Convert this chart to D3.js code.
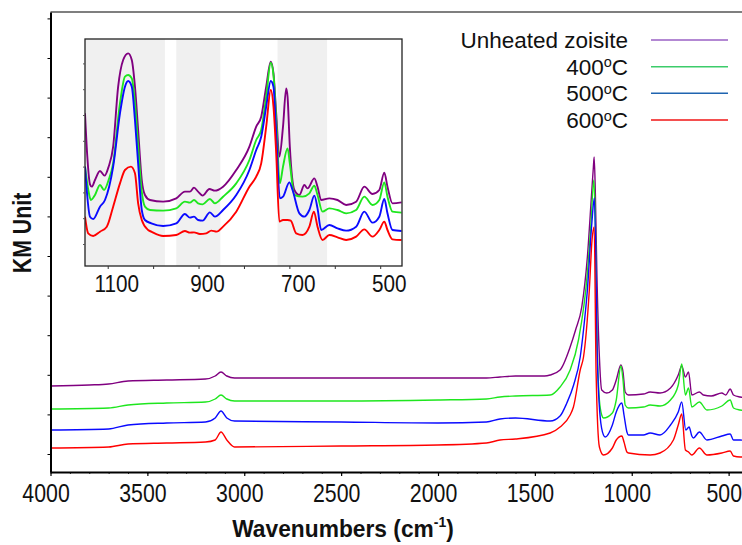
<!DOCTYPE html>
<html>
<head>
<meta charset="utf-8">
<script src="https://cdn.jsdelivr.net/npm/d3@7"></script>
<style>
  body { margin: 0; background: #fff; }
  svg { display: block; }
  text { font-family: "Liberation Sans", Arial, sans-serif; fill: #111; }
</style>
</head>
<body>
<svg id="chart" width="742" height="545"></svg>
<script>
// ---- Series (wavenumber cm-1, KM value) --------------------------------
const seriesNames = ["Unheated zoisite", "400", "500", "600"];
const seriesColors = ["#800080", "#1ee61e", "#0a0aff", "#ff0000"];
const legendColors = ["#9a60c4", "#3ccc6a", "#1f64b0", "#f01414"];

const unheated = [[4000,0.086],[3800,0.087],[3700,0.088],[3600,0.091],[3400,0.092],[3200,0.093],[3150,0.096],[3120,0.100],[3090,0.096],[3050,0.094],[2500,0.094],[2000,0.094],[1750,0.094],[1680,0.095],[1600,0.096],[1450,0.096],[1421,0.097],[1370,0.102],[1318,0.125],[1290,0.142],[1258,0.165],[1229,0.215],[1206,0.282],[1198,0.305],[1194,0.315],[1188,0.280],[1180,0.199],[1167,0.115],[1155,0.082],[1129,0.079],[1100,0.082],[1080,0.092],[1056,0.107],[1045,0.100],[1034,0.080],[1017,0.077],[940,0.078],[905,0.080],[854,0.079],[800,0.084],[760,0.097],[742,0.106],[723,0.095],[707,0.100],[690,0.077],[651,0.080],[630,0.077],[590,0.076],[535,0.079],[515,0.077],[492,0.083],[475,0.077],[440,0.075],[400,0.074]];
const heated400 = [[4000,0.063],[3700,0.064],[3600,0.067],[3400,0.069],[3200,0.070],[3150,0.073],[3120,0.077],[3090,0.073],[3050,0.071],[2500,0.071],[2000,0.072],[1750,0.073],[1680,0.075],[1600,0.076],[1421,0.077],[1370,0.085],[1318,0.102],[1275,0.132],[1229,0.199],[1210,0.250],[1196,0.292],[1188,0.250],[1180,0.142],[1167,0.072],[1155,0.057],[1146,0.054],[1100,0.059],[1080,0.072],[1056,0.106],[1045,0.092],[1034,0.067],[1017,0.064],[940,0.065],[905,0.067],[854,0.066],[800,0.072],[760,0.087],[742,0.108],[723,0.077],[707,0.084],[690,0.065],[651,0.070],[612,0.062],[535,0.066],[492,0.072],[475,0.064],[440,0.062],[400,0.061]];
const heated500 = [[4000,0.042],[3700,0.043],[3600,0.047],[3400,0.049],[3200,0.050],[3150,0.054],[3120,0.061],[3090,0.054],[3050,0.051],[2500,0.050],[2000,0.049],[1750,0.050],[1680,0.053],[1600,0.054],[1421,0.051],[1370,0.056],[1335,0.069],[1300,0.087],[1266,0.115],[1249,0.142],[1229,0.182],[1206,0.249],[1193,0.274],[1184,0.192],[1180,0.132],[1163,0.055],[1146,0.037],[1137,0.035],[1100,0.047],[1080,0.060],[1051,0.069],[1040,0.057],[1025,0.040],[1017,0.037],[940,0.037],[905,0.039],[854,0.037],[800,0.047],[760,0.060],[742,0.070],[721,0.042],[704,0.045],[690,0.036],[682,0.034],[651,0.040],[612,0.032],[535,0.036],[492,0.038],[475,0.032],[440,0.032],[400,0.031]];
const heated600 = [[4000,0.024],[3700,0.025],[3600,0.028],[3400,0.029],[3200,0.030],[3150,0.032],[3120,0.040],[3090,0.032],[3050,0.025],[2500,0.026],[2000,0.027],[1750,0.029],[1680,0.032],[1600,0.033],[1421,0.039],[1370,0.045],[1318,0.057],[1301,0.065],[1266,0.102],[1249,0.115],[1219,0.182],[1205,0.232],[1194,0.245],[1184,0.099],[1167,0.025],[1146,0.017],[1100,0.024],[1080,0.032],[1051,0.036],[1040,0.030],[1025,0.020],[1017,0.019],[905,0.017],[854,0.019],[785,0.032],[760,0.047],[742,0.058],[723,0.022],[707,0.020],[690,0.017],[651,0.024],[612,0.017],[535,0.019],[492,0.021],[475,0.016],[440,0.015],[400,0.015]];

// Fingerprint region, each trace offset for the enlarged view
const insetUnheated = [[1150,0.458],[1145,0.330],[1139,0.245],[1135,0.238],[1128,0.258],[1117,0.285],[1107,0.271],[1098,0.298],[1088,0.358],[1077,0.538],[1066,0.618],[1055,0.638],[1047,0.618],[1040,0.538],[1033,0.408],[1025,0.258],[1018,0.213],[1007,0.198],[978,0.193],[949,0.203],[930,0.223],[919,0.223],[910,0.235],[901,0.223],[891,0.211],[876,0.231],[864,0.226],[846,0.238],[817,0.288],[788,0.358],[773,0.418],[762,0.448],[751,0.538],[741,0.613],[735,0.578],[729,0.458],[722,0.328],[714,0.418],[707,0.533],[704,0.508],[699,0.358],[689,0.228],[678,0.213],[667,0.243],[660,0.233],[645,0.263],[638,0.238],[630,0.198],[612,0.203],[594,0.198],[575,0.183],[553,0.193],[535,0.238],[517,0.216],[502,0.228],[491,0.280],[484,0.238],[473,0.188],[453,0.191]];
const inset400 = [[1150,0.298],[1143,0.230],[1137,0.198],[1128,0.213],[1117,0.243],[1108,0.228],[1098,0.258],[1088,0.308],[1073,0.488],[1062,0.568],[1055,0.573],[1047,0.563],[1040,0.488],[1033,0.358],[1025,0.223],[1018,0.178],[1007,0.168],[978,0.166],[949,0.173],[930,0.193],[919,0.190],[910,0.198],[901,0.188],[891,0.185],[875,0.201],[864,0.188],[846,0.208],[817,0.248],[788,0.318],[773,0.378],[762,0.408],[751,0.508],[741,0.610],[735,0.573],[729,0.438],[721,0.248],[714,0.298],[704,0.353],[699,0.308],[689,0.213],[671,0.208],[656,0.218],[645,0.241],[638,0.213],[627,0.163],[612,0.173],[594,0.168],[575,0.158],[553,0.168],[535,0.208],[517,0.183],[502,0.198],[491,0.251],[484,0.208],[473,0.163],[453,0.160]];
const inset500 = [[1150,0.298],[1139,0.148],[1132,0.141],[1117,0.178],[1106,0.198],[1088,0.298],[1073,0.458],[1062,0.538],[1055,0.555],[1047,0.538],[1040,0.438],[1033,0.308],[1025,0.168],[1018,0.138],[1004,0.128],[978,0.120],[949,0.128],[930,0.156],[919,0.145],[910,0.148],[901,0.138],[891,0.136],[875,0.161],[864,0.148],[846,0.168],[817,0.213],[788,0.288],[773,0.348],[762,0.388],[751,0.478],[741,0.555],[735,0.538],[729,0.398],[721,0.203],[714,0.208],[700,0.251],[693,0.228],[678,0.158],[667,0.148],[656,0.168],[645,0.211],[638,0.173],[630,0.108],[612,0.123],[594,0.113],[575,0.106],[553,0.118],[535,0.163],[517,0.130],[502,0.148],[491,0.201],[484,0.158],[473,0.108],[453,0.105]];
const inset600 = [[1150,0.148],[1143,0.098],[1132,0.090],[1117,0.103],[1102,0.118],[1088,0.178],[1073,0.248],[1062,0.288],[1049,0.298],[1040,0.278],[1033,0.188],[1025,0.138],[1011,0.108],[1004,0.103],[978,0.090],[949,0.093],[930,0.105],[919,0.100],[910,0.101],[897,0.096],[883,0.098],[872,0.106],[860,0.103],[846,0.118],[817,0.163],[788,0.238],[773,0.268],[762,0.308],[751,0.418],[741,0.528],[735,0.478],[729,0.338],[722,0.133],[714,0.138],[704,0.138],[697,0.136],[685,0.098],[671,0.093],[656,0.118],[646,0.163],[638,0.118],[627,0.078],[612,0.093],[594,0.086],[575,0.078],[553,0.088],[535,0.110],[517,0.088],[502,0.108],[491,0.133],[484,0.108],[473,0.080],[453,0.078]];

const mainSeries = [unheated, heated400, heated500, heated600];
const insetSeries = [insetUnheated, inset400, inset500, inset600];

// Tick values
const mainMajorTicks = [4000, 3500, 3000, 2500, 2000, 1500, 1000, 500];
const mainMinorTicks = d3.range(4000, 399, -100);
const mainYTicks = d3.range(0.018, 0.46, 0.0396);
const insetMajorTicks = [1100, 1000, 900, 800, 700, 600, 500];
const insetLabelTicks = [1100, 900, 700, 500];
const insetYTicks = d3.range(0.066, 0.681, 0.0774);
// Highlighted wavenumber windows in the enlarged view
const insetBands = [[1150, 974], [949, 852], [726, 617]];

// ---- Layout -----------------------------------------------------------
const svg = d3.select("#chart");
const M = { left: 50.5, right: 748, top: 12, bottom: 472 };
const I = { left: 85, right: 402, top: 39, bottom: 266 };
const NARROW = 0.82;   // horizontal squeeze for the condensed axis lettering

const x = d3.scaleLinear().domain([4000, 400]).range([M.left, M.right]);
const y = d3.scaleLinear().domain([0, 0.46]).range([M.bottom, M.top]);
const xi = d3.scaleLinear().domain([1150, 452]).range([I.left, I.right]);
const yi = d3.scaleLinear().domain([0, 0.681]).range([I.bottom, I.top]);

svg.append("defs").call(d => {
  d.append("clipPath").attr("id", "clipMain").append("rect")
    .attr("x", M.left).attr("y", M.top).attr("width", M.right - M.left).attr("height", M.bottom - M.top);
  d.append("clipPath").attr("id", "clipInset").append("rect")
    .attr("x", I.left).attr("y", I.top).attr("width", I.right - I.left).attr("height", I.bottom - I.top);
});

// ---- Main spectra -----------------------------------------------------
const lineMain = d3.line().x(d => x(d[0])).y(d => y(d[1])).curve(d3.curveMonotoneX);
svg.append("g").attr("clip-path", "url(#clipMain)")
  .selectAll("path").data(mainSeries).join("path")
  .attr("d", lineMain).attr("fill", "none")
  .attr("stroke", (d, i) => seriesColors[i]).attr("stroke-width", 1.4)
  .attr("stroke-linejoin", "round");

// frame
svg.append("line").attr("x1", M.left).attr("x2", 742).attr("y1", M.top).attr("y2", M.top)
  .attr("stroke", "#000").attr("stroke-width", 1.2);

// x axis (minor + major)
svg.append("g").attr("transform", `translate(0,${M.bottom})`)
  .call(d3.axisBottom(x).tickValues(mainMinorTicks).tickSize(2).tickFormat(""))
  .call(g => g.select(".domain").remove())
  .call(g => g.selectAll("line").attr("stroke", "#333"));
const xAxis = svg.append("g").attr("transform", `translate(0,${M.bottom})`)
  .call(d3.axisBottom(x).tickValues(mainMajorTicks).tickSize(4).tickSizeOuter(0).tickPadding(8).tickFormat(d3.format("d")));
xAxis.select(".domain").attr("stroke", "#000").attr("stroke-width", 2);
xAxis.selectAll("line").attr("stroke", "#000").attr("stroke-width", 1.2);
xAxis.selectAll("text").attr("font-size", 26).attr("dx", -6).attr("fill", "#111")
  .attr("transform", `scale(${NARROW},1)`)
  .style("font-family", "'Liberation Sans', Arial, sans-serif");

// y axis: unlabeled ticks
const yAxis = svg.append("g").attr("transform", `translate(${M.left},0)`)
  .call(d3.axisLeft(y).tickValues(mainYTicks).tickSize(3).tickSizeOuter(0).tickFormat(""));
yAxis.select(".domain").attr("stroke", "#000").attr("stroke-width", 2);
yAxis.selectAll("line").attr("stroke", "#000");

// axis titles
const xTitle = svg.append("text").attr("transform", "translate(343,537) scale(0.93,1)")
  .attr("text-anchor", "middle").attr("font-size", 24.5).attr("font-weight", "bold");
xTitle.append("tspan").text("Wavenumbers (cm");
xTitle.append("tspan").attr("font-size", 15).attr("dy", -10).text("-1");
xTitle.append("tspan").attr("dy", 10).text(")");

svg.append("text").attr("transform", `translate(31,233) rotate(-90) scale(${NARROW},1)`)
  .attr("text-anchor", "middle").attr("font-size", 26).attr("font-weight", "bold")
  .text("KM Unit");

// ---- Legend -----------------------------------------------------------
const legendRows = [40, 66.7, 93.3, 120];
const legend = svg.append("g");
seriesNames.forEach((name, i) => {
  const t = legend.append("text").attr("x", 628).attr("y", legendRows[i] + 8)
    .attr("text-anchor", "end").attr("font-size", 22.5);
  if (i === 0) {
    t.text(name);
  } else {
    t.append("tspan").text(name);
    t.append("tspan").attr("font-size", 14.5).attr("dy", -7.5).text("o");
    t.append("tspan").attr("dy", 7.5).text("C");
  }
  legend.append("line").attr("x1", 651).attr("x2", 728)
    .attr("y1", legendRows[i]).attr("y2", legendRows[i])
    .attr("stroke", legendColors[i]).attr("stroke-width", 1.6);
});

// ---- Inset ------------------------------------------------------------
const inset = svg.append("g");
inset.append("rect").attr("x", I.left).attr("y", I.top)
  .attr("width", I.right - I.left).attr("height", I.bottom - I.top).attr("fill", "#fff");
inset.selectAll("rect.band").data(insetBands).join("rect").attr("class", "band")
  .attr("x", d => xi(d[0])).attr("width", d => xi(d[1]) - xi(d[0]))
  .attr("y", I.top).attr("height", I.bottom - I.top).attr("fill", "#f0f0f0");

const lineInset = d3.line().x(d => xi(d[0])).y(d => yi(d[1])).curve(d3.curveMonotoneX);
inset.append("g").attr("clip-path", "url(#clipInset)")
  .selectAll("path").data(insetSeries).join("path")
  .attr("d", lineInset).attr("fill", "none")
  .attr("stroke", (d, i) => seriesColors[i]).attr("stroke-width", 1.9)
  .attr("stroke-linejoin", "round");

inset.append("rect").attr("x", I.left).attr("y", I.top)
  .attr("width", I.right - I.left).attr("height", I.bottom - I.top)
  .attr("fill", "none").attr("stroke", "#222").attr("stroke-width", 1.3);

const ixAxis = inset.append("g").attr("transform", `translate(0,${I.bottom})`)
  .call(d3.axisBottom(xi).tickValues(insetMajorTicks).tickSize(3).tickSizeOuter(0).tickFormat(""));
ixAxis.select(".domain").remove();
ixAxis.selectAll("line").attr("stroke", "#333");
inset.append("g").selectAll("text").data(insetLabelTicks).join("text")
  .attr("transform", d => `translate(${xi(d) + 9},291.5) scale(0.9,1)`)
  .attr("text-anchor", "middle").attr("font-size", 23).text(d => d);

const iyAxis = inset.append("g").attr("transform", `translate(${I.left},0)`)
  .call(d3.axisLeft(yi).tickValues(insetYTicks).tickSize(2).tickSizeOuter(0).tickFormat(""));
iyAxis.select(".domain").remove();
iyAxis.selectAll("line").attr("stroke", "#555");
</script>
</body>
</html>
